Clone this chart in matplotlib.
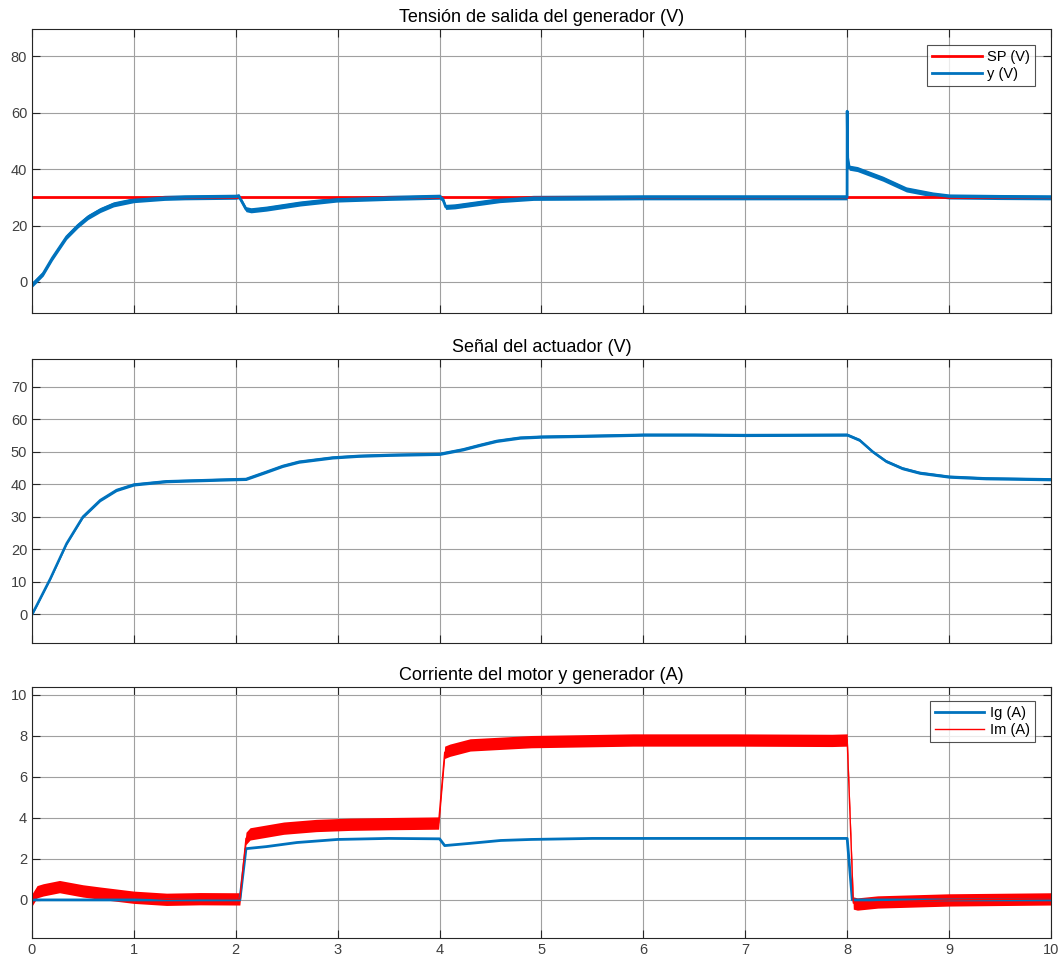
import numpy as np
import matplotlib
matplotlib.use("Agg")
import matplotlib.pyplot as plt

plt.rcParams['font.family'] = ['Liberation Sans', 'DejaVu Sans']

BLUE = '#0072BD'
RED = '#FF0000'

# --- Generator output voltage (V) ---
t_y = [0.0, 0.05, 0.11, 0.2, 0.34, 0.45, 0.55, 0.67, 0.8, 1.0, 1.3, 1.5, 2.0,
       2.03, 2.1, 2.15, 2.3, 2.63, 2.99, 3.5, 4.0, 4.03, 4.06, 4.15, 4.59, 4.92,
       6.0, 7.999, 8.0, 8.005, 8.02, 8.1, 8.35, 8.58, 8.84, 9.0, 9.5, 10.0]
v_y = [-1.0, 0.8, 3.0, 8.5, 16.0, 20.0, 23.0, 25.5, 27.5, 29.0, 29.8, 30.0, 30.2,
       30.4, 25.8, 25.4, 26.0, 27.8, 29.2, 29.8, 30.2, 29.5, 26.6, 26.8, 29.0, 29.8,
       30.0, 30.0, 60.5, 44.0, 40.5, 40.0, 36.6, 32.8, 31.0, 30.3, 30.1, 30.0]
y_band = 0.9
t_sp = [0.0, 10.0]
v_sp = [30.0, 30.0]

# --- Actuator signal (V) ---
t_u = [0.0, 0.05, 0.18, 0.34, 0.5, 0.67, 0.83, 1.0, 1.32, 1.97, 2.1, 2.3, 2.46,
       2.62, 2.95, 3.2, 3.5, 4.0, 4.23, 4.39, 4.56, 4.79, 5.0, 5.54, 6.0, 6.5,
       7.0, 8.0, 8.12, 8.25, 8.38, 8.54, 8.71, 9.0, 9.36, 10.0]
v_u = [0.0, 3.0, 11.0, 21.8, 30.0, 35.1, 38.2, 39.9, 40.9, 41.5, 41.6, 43.8, 45.6,
       46.9, 48.2, 48.7, 49.0, 49.3, 50.7, 52.0, 53.3, 54.3, 54.6, 54.9, 55.2, 55.2,
       55.1, 55.2, 53.6, 50.0, 47.1, 44.9, 43.5, 42.3, 41.8, 41.5]
u_band = 0.45

# --- Generator current Ig (A) ---
t_ig = [0.0, 2.04, 2.1, 2.3, 2.6, 3.0, 3.5, 4.0, 4.05, 4.3, 4.6, 4.9, 5.5,
        8.0, 8.05, 10.0]
v_ig = [0.0, 0.0, 2.5, 2.6, 2.8, 2.95, 3.0, 2.98, 2.65, 2.76, 2.9, 2.95, 3.0,
        3.0, 0.0, 0.0]

# --- Motor current Im (A) ---
t_im = [0.0, 0.05, 0.11, 0.27, 0.5, 0.67, 1.0, 1.32, 1.65, 2.04, 2.1, 2.14,
        2.47, 2.79, 3.12, 3.5, 3.99, 4.05, 4.1, 4.3, 4.9, 5.9, 6.9, 7.85, 8.0,
        8.06, 8.1, 8.3, 9.0, 10.0]
v_im = [0.0, 0.4, 0.49, 0.65, 0.44, 0.33, 0.13, 0.03, 0.06, 0.05, 3.0, 3.22,
        3.5, 3.63, 3.69, 3.72, 3.75, 7.2, 7.3, 7.56, 7.72, 7.8, 7.8, 7.78, 7.8,
        -0.15, -0.2, -0.1, 0.0, 0.05]
im_band = 0.3

titles = ['Tensión de salida del generador (V)',
          'Señal del actuador (V)',
          'Corriente del motor y generador (A)']
x_ticks = list(range(0, 11))


def style_axes(ax, yticks, ylim, show_x):
    ax.set_xlim(0, 10)
    ax.set_ylim(*ylim)
    ax.set_xticks(x_ticks)
    ax.set_yticks(yticks)
    ax.grid(True, color='#a0a0a0', linewidth=0.8)
    ax.set_axisbelow(True)
    ax.tick_params(direction='in', length=6, width=0.8, top=True, right=True,
                   labelsize=10.5, colors='#262626', labelcolor='#404040')
    if not show_x:
        ax.tick_params(labelbottom=False)
    for s in ax.spines.values():
        s.set_color('#262626')
        s.set_linewidth(0.8)


def add_legend(ax, anchor):
    leg = ax.legend(loc='upper right', fontsize=10.5, frameon=True,
                    fancybox=False, edgecolor='#262626', handlelength=3.4,
                    borderpad=0.35, labelspacing=0.2, handletextpad=0.35,
                    borderaxespad=0.0, bbox_to_anchor=anchor)
    leg.get_frame().set_linewidth(0.8)
    return leg


fig = plt.figure(figsize=(10.63, 9.65), dpi=100)
L, W = 0.0301, 0.9586
ax1 = fig.add_axes([L, 0.6756, W, 0.2943])
ax2 = fig.add_axes([L, 0.3337, W, 0.2943])
ax3 = fig.add_axes([L, 0.0277, W, 0.2607])

# Top: set point and generator voltage
ax1.plot(t_sp, v_sp, color=RED, lw=2, label='SP (V)')
ya = np.array(v_y)
ax1.fill_between(t_y, ya - y_band, ya + y_band, color=BLUE, lw=0)
ax1.plot(t_y, v_y, color=BLUE, lw=2, label='y (V)')
style_axes(ax1, [0, 20, 40, 60, 80], (-11, 89.6), False)
ax1.set_title(titles[0], fontsize=13, pad=5)
add_legend(ax1, (0.984, 0.944))

# Middle: actuator
ua = np.array(v_u)
ax2.fill_between(t_u, ua - u_band, ua + u_band, color=BLUE, lw=0)
ax2.plot(t_u, v_u, color=BLUE, lw=1.8)
style_axes(ax2, list(range(0, 80, 10)), (-8.8, 78.5), False)
ax2.set_title(titles[1], fontsize=13, pad=5)

# Bottom: currents
ax3.plot(t_ig, v_ig, color=BLUE, lw=2, label='Ig (A)')
ima = np.array(v_im)
ax3.fill_between(t_im, ima - im_band, ima + im_band, color=RED, lw=0)
ax3.plot(t_im, v_im, color=RED, lw=1, label='Im (A)')
style_axes(ax3, [0, 2, 4, 6, 8, 10], (-1.87, 10.4), True)
ax3.set_title(titles[2], fontsize=13, pad=5)
add_legend(ax3, (0.984, 0.943))

fig.savefig('out.png', dpi=100, facecolor='white')
